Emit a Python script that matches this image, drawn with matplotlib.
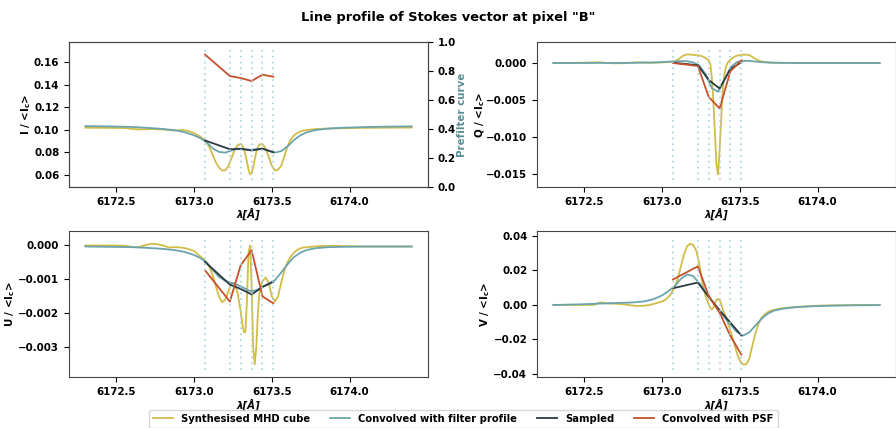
import matplotlib
matplotlib.use("Agg")
import matplotlib.pyplot as plt

plt.rcParams['font.family'] = ['DejaVu Sans']
plt.rcParams['font.size'] = 7.4
plt.rcParams['font.weight'] = 'bold'
plt.rcParams['axes.labelweight'] = 'bold'
plt.rcParams['axes.edgecolor'] = '#444444'

# wavelength grid of the synthesised profiles
wl = [6172.30, 6172.40, 6172.50, 6172.56, 6172.60, 6172.64, 6172.68, 6172.72,
      6172.76, 6172.80, 6172.84, 6172.88, 6172.92, 6172.96,
      6173.00, 6173.02, 6173.04, 6173.06, 6173.08, 6173.10, 6173.12, 6173.14,
      6173.16, 6173.18, 6173.20, 6173.22, 6173.24, 6173.26, 6173.28,
      6173.30, 6173.31, 6173.32, 6173.33, 6173.34, 6173.35, 6173.36, 6173.37,
      6173.38, 6173.39, 6173.40, 6173.41, 6173.42,
      6173.44, 6173.46, 6173.48, 6173.50, 6173.52, 6173.54, 6173.56, 6173.58,
      6173.60, 6173.62, 6173.64, 6173.66, 6173.68, 6173.70,
      6173.75, 6173.80, 6173.90, 6174.00, 6174.10, 6174.20, 6174.30, 6174.40]

syn_I = [0.1018, 0.1017, 0.1016, 0.1015, 0.1008, 0.1003, 0.1005, 0.1006,
         0.1005, 0.1002, 0.0996, 0.0994, 0.0998, 0.0990,
         0.0970, 0.0955, 0.0938, 0.0918, 0.0890, 0.0840, 0.0775, 0.0710,
         0.0665, 0.0638, 0.0640, 0.0675, 0.0745, 0.0818, 0.0864,
         0.0874, 0.0862, 0.0830, 0.0780, 0.0715, 0.0645, 0.0603, 0.0615,
         0.0665, 0.0735, 0.0800, 0.0845, 0.0870,
         0.0872, 0.0835, 0.0760, 0.0680, 0.0638, 0.0645, 0.0680, 0.0760,
         0.0850, 0.0910, 0.0945, 0.0968, 0.0982, 0.0992,
         0.1002, 0.1008, 0.1012, 0.1015, 0.1017, 0.1018, 0.1019, 0.1019]

syn_Q = [0.0, 0.0, 0.00005, 0.00008, 0.00010, 0.00002, -0.00003, -0.00004,
         -0.00002, 0.00004, 0.00010, 0.00008, 0.00003, 0.00005,
         0.00008, 0.00010, 0.00012, 0.00015, 0.00020, 0.00040, 0.00075, 0.00105,
         0.00115, 0.00115, 0.00110, 0.00106, 0.00100, 0.00090, 0.00070,
         0.00035, -0.00010, -0.00200, -0.00520, -0.00950, -0.01380, -0.01510, -0.01180,
         -0.00780, -0.00370, -0.00170, -0.00060, 0.00000,
         0.00045, 0.00080, 0.00098, 0.00108, 0.00112, 0.00114, 0.00108, 0.00085,
         0.00055, 0.00035, 0.00022, 0.00014, 0.00009, 0.00006,
         0.00004, 0.00002, 0.0, 0.0, 0.0, 0.0, 0.0, 0.0]

syn_U = [0.0, 0.0, 0.0, -0.00001, -0.00004, -0.00005, 0.00000, 0.00005,
         0.00004, 0.00000, -0.00006, -0.00005, -0.00006, -0.00010,
         -0.00016, -0.00024, -0.00032, -0.00040, -0.00050, -0.00065, -0.00088, -0.00120,
         -0.00150, -0.00167, -0.00160, -0.00135, -0.00112, -0.00110, -0.00140,
         -0.00195, -0.00230, -0.00255, -0.00255, -0.00160, -0.00020, 0.00000, -0.00120,
         -0.00300, -0.00350, -0.00300, -0.00200, -0.00140,
         -0.00105, -0.00094, -0.00110, -0.00150, -0.00165, -0.00150, -0.00110, -0.00075,
         -0.00050, -0.00034, -0.00022, -0.00014, -0.00009, -0.00006,
         -0.00004, -0.00002, -0.00001, -0.00002, -0.00003, -0.00003, -0.00003, -0.00003]

syn_V = [0.0, 0.0, 0.0, 0.0, 0.0015, 0.0010, 0.0008, 0.0006,
         0.0003, -0.0002, -0.0006, -0.0005, 0.0000, 0.0010,
         0.0020, 0.0030, 0.0045, 0.0068, 0.0102, 0.0150, 0.0220, 0.0290,
         0.0340, 0.0355, 0.0348, 0.0315, 0.0235, 0.0125, 0.0050,
         0.0005, -0.0018, -0.0025, -0.0015, 0.0010, 0.0030, 0.0035, 0.0028,
         0.0005, -0.0025, -0.0045, -0.0070, -0.0095,
         -0.0150, -0.0210, -0.0275, -0.0322, -0.0345, -0.0345, -0.0315, -0.0240,
         -0.0165, -0.0110, -0.0075, -0.0055, -0.0042, -0.0033,
         -0.0022, -0.0016, -0.0009, -0.0004, -0.0002, -0.0001, 0.0, 0.0]

# wavelength grid of the profiles convolved with the filter
wl_conv = [6172.30, 6172.45, 6172.60, 6172.70, 6172.80, 6172.88, 6172.94, 6173.00,
           6173.04, 6173.08, 6173.12, 6173.16, 6173.20, 6173.24, 6173.28, 6173.32,
           6173.36, 6173.40, 6173.44, 6173.48, 6173.52, 6173.56, 6173.60, 6173.64,
           6173.68, 6173.72, 6173.78, 6173.86, 6173.96, 6174.10, 6174.25, 6174.40]

conv_I = [0.1032, 0.1030, 0.1025, 0.1017, 0.1007, 0.0995, 0.0978, 0.0950,
          0.0925, 0.0890, 0.0835, 0.0803, 0.0797, 0.0815, 0.0832, 0.0830,
          0.0822, 0.0828, 0.0832, 0.0812, 0.0797, 0.0810, 0.0850, 0.0905,
          0.0948, 0.0975, 0.0997, 0.1010, 0.1018, 0.1024, 0.1028, 0.1030]

conv_Q = [0.0, 0.0, 0.00002, 0.0, 0.00002, 0.00005, 0.00008, 0.00012,
          0.00018, 0.00022, 0.00026, 0.00024, 0.00008, -0.00035, -0.00150, -0.00340,
          -0.00390, -0.00230, -0.00060, 0.00012, 0.00030, 0.00028, 0.00020, 0.00012,
          0.00007, 0.00004, 0.00002, 0.0, 0.0, 0.0, 0.0, 0.0]

conv_U = [-0.00003, -0.00004, -0.00005, -0.00007, -0.00010, -0.00014, -0.00019, -0.00028,
          -0.00037, -0.00050, -0.00072, -0.00092, -0.00104, -0.00110, -0.00116, -0.00125,
          -0.00134, -0.00132, -0.00122, -0.00112, -0.00102, -0.00080, -0.00056, -0.00035,
          -0.00022, -0.00014, -0.00008, -0.00005, -0.00004, -0.00003, -0.00003, -0.00003]

conv_V = [0.0, 0.0003, 0.0008, 0.0011, 0.0014, 0.0020, 0.0032, 0.0055,
          0.0080, 0.0108, 0.0150, 0.0177, 0.0168, 0.0125, 0.0075, 0.0025,
          -0.0022, -0.0070, -0.0115, -0.0155, -0.0178, -0.0160, -0.0120, -0.0080,
          -0.0050, -0.0033, -0.0021, -0.0013, -0.0008, -0.0004, -0.0002, -0.0001]

# filter positions
wl_samp = [6173.07, 6173.23, 6173.30, 6173.37, 6173.44, 6173.51]

samp_I = [0.0905, 0.0827, 0.0830, 0.0816, 0.0832, 0.0800]
samp_Q = [0.00005, -0.0003, -0.0023, -0.00345, -0.0008, 0.0001]
samp_U = [-0.00048, -0.00115, -0.00128, -0.00144, -0.00122, -0.00107]
samp_V = [0.0097, 0.0130, 0.0047, -0.0031, -0.0103, -0.0177]

psf_I = [0.1668, 0.1477, 0.1459, 0.1433, 0.1489, 0.1471]
psf_Q = [0.0, -0.0004, -0.0046, -0.00615, -0.0011, 0.00036]
psf_U = [-0.00073, -0.00165, -0.00058, -0.00014, -0.0015, -0.0017]
psf_V = [0.0148, 0.0224, 0.0053, -0.0045, -0.0181, -0.0288]

I_ticks = [0.06, 0.08, 0.10, 0.12, 0.14, 0.16]

c_syn = '#d1bd48'
c_conv = '#6ca4ad'
c_samp = '#2b3942'
c_psf = '#c5512b'
c_vline = '#a3d2dc'

fig = plt.figure(figsize=(8.96, 4.28), dpi=100)

positions = [[0.077, 0.563, 0.4007, 0.339],
             [0.5993, 0.563, 0.4007, 0.339],
             [0.077, 0.119, 0.4007, 0.341],
             [0.5993, 0.119, 0.4007, 0.341]]
panels = [(syn_I, conv_I, samp_I, psf_I, r'I / <I$_\mathbf{c}$>', -0.100),
          (syn_Q, conv_Q, samp_Q, psf_Q, r'Q / <I$_\mathbf{c}$>', -0.139),
          (syn_U, conv_U, samp_U, psf_U, r'U / <I$_\mathbf{c}$>', -0.145),
          (syn_V, conv_V, samp_V, psf_V, r'V / <I$_\mathbf{c}$>', -0.125)]

axes = []
for pos, (syn, conv, samp, psf, ylab, labx) in zip(positions, panels):
    ax = fig.add_axes(pos)
    ax.plot(wl, syn, color=c_syn, lw=1.3, label='Synthesised MHD cube')
    ax.plot(wl_conv, conv, color=c_conv, lw=1.3, label='Convolved with filter profile')
    ax.plot(wl_samp, samp, color=c_samp, lw=1.3, label='Sampled')
    ax.plot(wl_samp, psf, color=c_psf, lw=1.3, label='Convolved with PSF')
    lo, hi = ax.get_ylim()
    ax.vlines(wl_samp, lo, hi, colors=c_vline, linestyles=(0, (1, 2.5)), lw=1.2)
    ax.set_xticks([6172.5, 6173.0, 6173.5, 6174.0])
    ax.set_xlabel('λ[Å]', fontstyle='italic', labelpad=1)
    ax.set_ylabel(ylab)
    ax.yaxis.set_label_coords(labx, 0.5)
    axes.append(ax)

axes[0].set_yticks(I_ticks)

# prefilter axis on the intensity panel
ax2 = axes[0].twinx()
ax2.set_ylim(0, 1)
ax2.set_ylabel('Prefilter curve', color='#5b8e96')
ax2.yaxis.set_label_coords(1.082, 0.5)

fig.suptitle('Line profile of Stokes vector at pixel "B"', fontsize=9.4,
             fontweight='bold', x=0.5, y=0.958, va='center')

handles, labels = axes[0].get_legend_handles_labels()
fig.legend(handles, labels, ncol=4, loc='upper center',
           bbox_to_anchor=(0.517, 0.054), fontsize=7.2, handlelength=2.0)

fig.savefig('out.png', dpi=100)
plt.close()
